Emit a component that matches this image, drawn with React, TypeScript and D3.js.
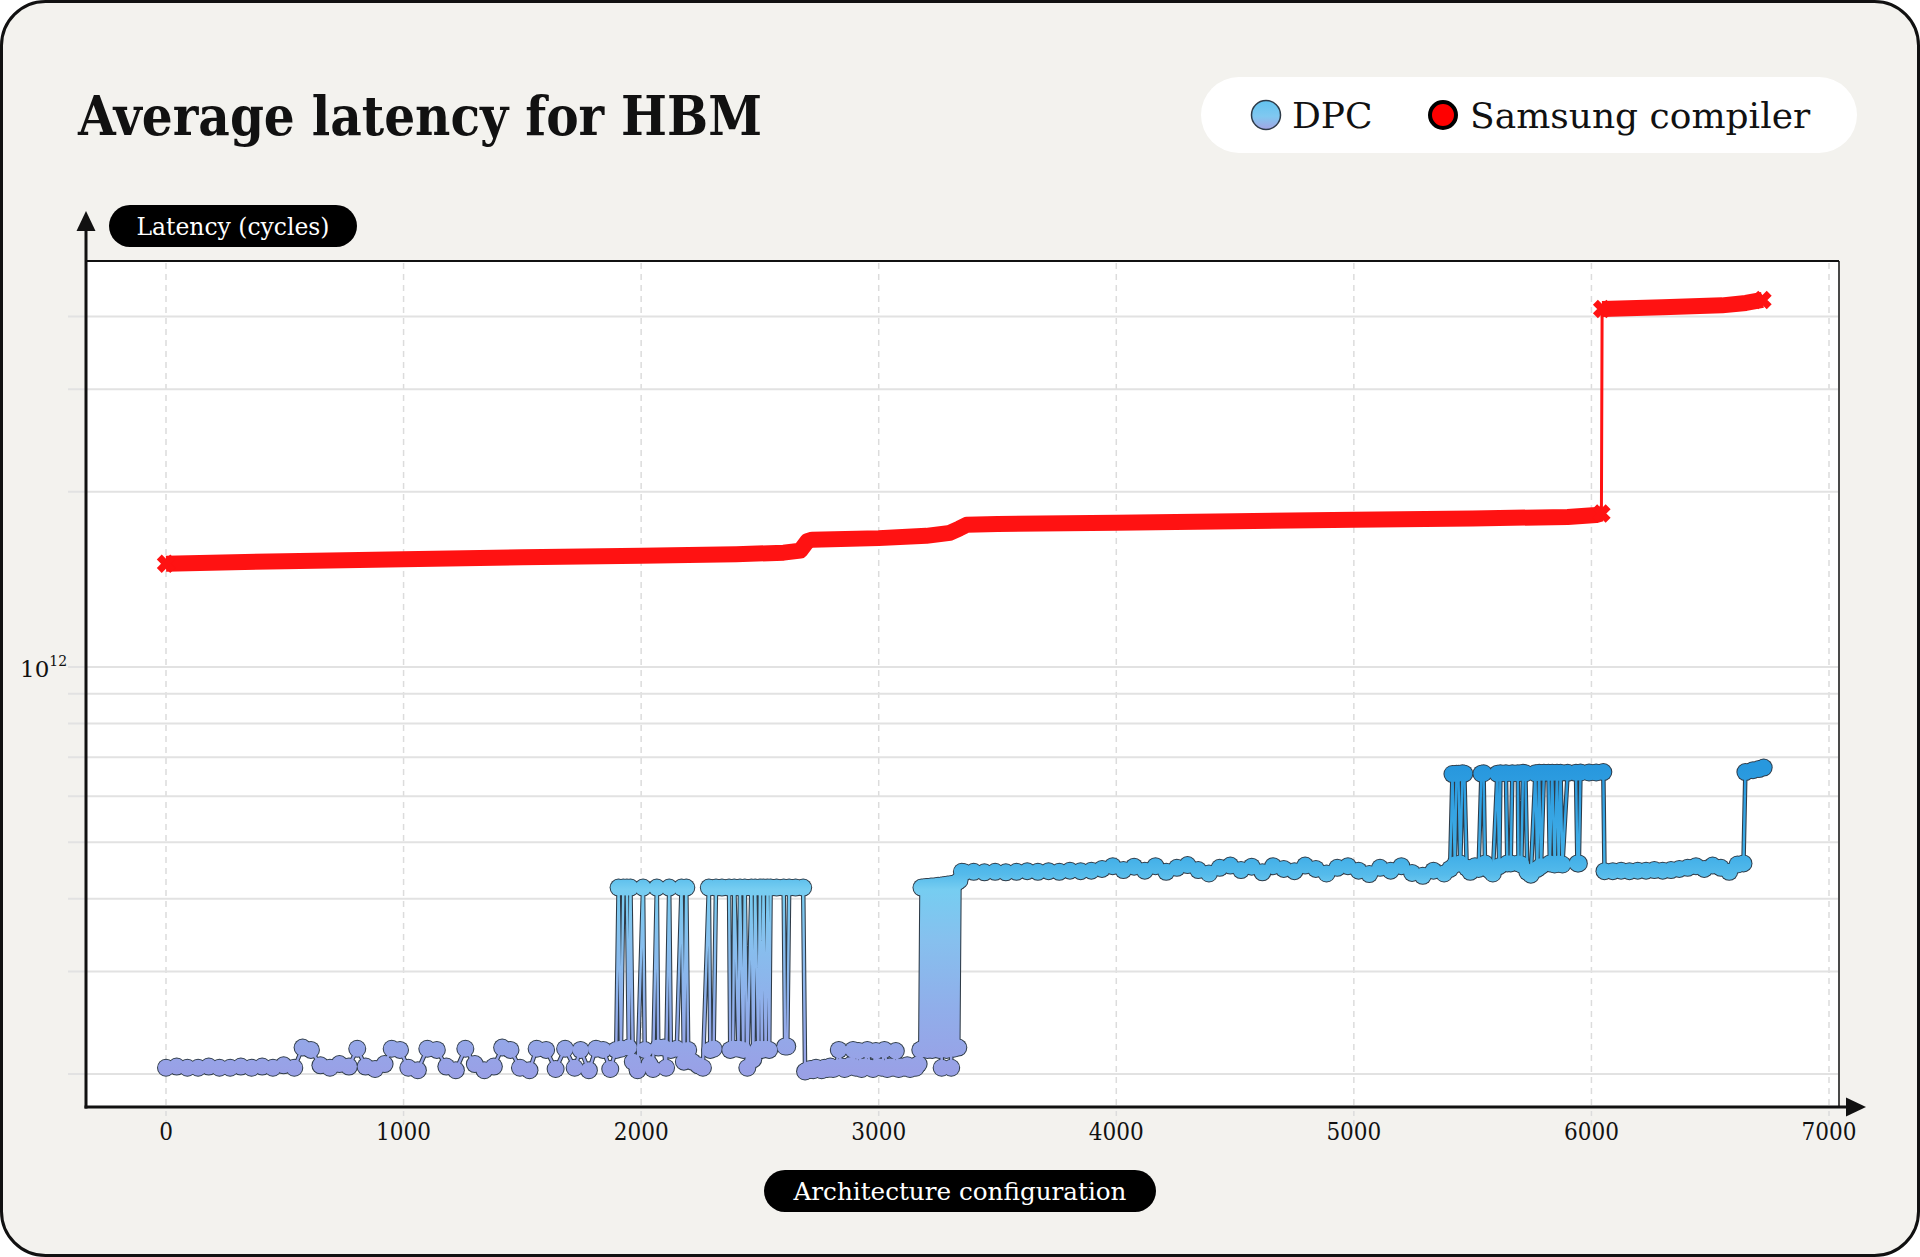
import React, { useEffect, useRef } from 'react';
import * as d3 from 'd3';

// ---- data ----
const xTicks = [0, 1000, 2000, 3000, 4000, 5000, 6000, 7000];
const yGrid = [2e11, 3e11, 4e11, 5e11, 6e11, 7e11, 8e11, 9e11, 1e12, 2e12, 3e12, 4e12];

// DPC: configuration index / average latency (x 1e11 cycles)
const dpcConfig = [
  0, 45, 90, 135, 180, 225, 270, 315, 360, 405, 450, 495, 540, 575, 610, 650, 690, 730, 770, 805, 840, 880, 920, 950, 985,
  1020, 1060, 1100, 1140, 1180, 1220, 1260, 1300, 1340, 1380, 1415, 1450, 1490, 1530, 1560, 1600, 1640, 1680, 1720, 1745,
  1780, 1810, 1840, 1870,
  1895, 1905, 1915, 1925, 1940, 1948, 1955, 1965, 1985, 2008, 2015, 2035, 2050, 2066, 2072, 2095, 2105, 2118, 2125, 2150,
  2170, 2180, 2190, 2198, 2215, 2240, 2260,
  2285, 2291, 2305, 2315, 2340, 2370, 2375, 2387, 2392, 2410, 2416, 2430, 2436, 2447, 2464, 2472, 2480, 2493, 2500, 2508,
  2515, 2524, 2532, 2539, 2545, 2570, 2600, 2606, 2615, 2623, 2650, 2682, 2690,
  2700, 2712, 2724, 2736, 2748, 2760, 2772, 2784, 2796, 2808,
  2820, 2832, 2844, 2856, 2868, 2880, 2892, 2904, 2916, 2928,
  2940, 2952, 2964, 2976, 2988, 3000, 3012, 3024, 3036, 3048,
  3060, 3072, 3084, 3096, 3108, 3120, 3132, 3144, 3156, 3168,
  3175, 3180, 3185, 3190, 3195, 3200, 3205, 3210, 3215, 3220,
  3225, 3230, 3235, 3240, 3245, 3250, 3255, 3260, 3265, 3270,
  3275, 3280, 3285, 3290, 3295, 3300, 3305, 3310, 3315, 3320,
  3325, 3330, 3335, 3340, 3350,
  3360, 3400, 3445, 3490, 3535, 3580, 3625, 3670, 3715, 3760, 3805, 3850, 3895, 3940, 3985, 4030, 4075, 4120, 4165, 4210,
  4255, 4300, 4345, 4390, 4435, 4480, 4525, 4570, 4615, 4660, 4705, 4750, 4795, 4840, 4885, 4930, 4975, 5020, 5065, 5110,
  5155, 5200, 5245, 5290, 5335, 5380,
  5405, 5415, 5425, 5432, 5440, 5448, 5457, 5465, 5475, 5490, 5510, 5525, 5537, 5546, 5552, 5570, 5585, 5604, 5612, 5617,
  5640, 5646, 5660, 5667, 5690, 5693, 5705, 5712, 5722, 5730, 5745, 5764, 5772, 5780, 5788, 5800, 5819, 5825, 5835, 5845,
  5855, 5862, 5870, 5878, 5900, 5935, 5941, 5947, 5954, 5990, 6020, 6050,
  6055, 6090, 6125, 6160, 6195, 6230, 6265, 6300, 6335, 6370, 6405, 6440, 6475, 6510, 6545, 6580, 6615, 6640,
  6648, 6680, 6705, 6725,
];
const dpcLatency = [
  2.05, 2.06, 2.05, 2.05, 2.06, 2.05, 2.05, 2.06, 2.05, 2.06, 2.05, 2.07, 2.05, 2.22, 2.2, 2.07, 2.05, 2.08, 2.06, 2.21, 2.06,
  2.04, 2.08, 2.21, 2.2, 2.05, 2.03, 2.21, 2.2, 2.06, 2.03, 2.21, 2.08, 2.03, 2.06, 2.22, 2.2, 2.05, 2.03, 2.21, 2.2, 2.04,
  2.21, 2.05, 2.2, 2.03, 2.21, 2.2, 2.04,
  2.2, 4.18, 2.21, 4.18, 4.18, 2.22, 4.18, 2.1, 2.03, 4.18, 2.2, 2.08, 2.04, 4.18, 2.22, 2.22, 2.05, 4.18, 2.2, 2.21,
  4.18, 2.1, 4.18, 2.2, 2.1, 2.07, 2.05,
  4.18, 2.2, 2.21, 4.18, 4.18, 4.18, 2.2, 2.21, 4.18, 2.21, 4.18, 2.2, 4.18, 2.05, 4.18, 2.12, 4.18, 2.21, 4.18, 2.2,
  4.18, 2.21, 4.18, 2.2, 4.18, 4.18, 4.18, 2.23, 2.23, 4.18, 4.18, 4.18, 2.02,
  2.03, 2.04, 2.03, 2.05, 2.04, 2.03, 2.05, 2.04, 2.06, 2.04,
  2.05, 2.2, 2.06, 2.04, 2.05, 2.07, 2.2, 2.05, 2.19, 2.04,
  2.06, 2.2, 2.05, 2.04, 2.19, 2.06, 2.05, 2.2, 2.04, 2.06,
  2.05, 2.19, 2.04, 2.06, 2.05, 2.07, 2.04, 2.06, 2.05, 2.08,
  2.2, 4.18, 2.21, 4.18, 2.22, 4.19, 2.2, 4.19, 2.21, 4.2,
  2.2, 4.2, 2.22, 4.2, 2.21, 4.21, 2.2, 4.21, 2.05, 4.22,
  2.21, 4.22, 2.2, 4.23, 2.22, 4.23, 2.05, 4.24, 2.21, 4.25,
  2.22, 4.27, 2.22, 4.3, 4.45,
  4.44, 4.45, 4.44, 4.45, 4.44, 4.45, 4.46, 4.45, 4.46, 4.45, 4.47, 4.46, 4.47, 4.5, 4.55, 4.48, 4.54, 4.47, 4.55, 4.45,
  4.52, 4.57, 4.48, 4.42, 4.52, 4.56, 4.48, 4.54, 4.44, 4.55, 4.5, 4.46, 4.56, 4.5, 4.42, 4.52, 4.55, 4.47, 4.41, 4.52,
  4.47, 4.55, 4.43, 4.38, 4.47, 4.42,
  4.5, 6.55, 4.58, 6.56, 6.56, 4.6, 6.57, 6.56, 4.52, 4.45, 4.55, 4.5, 6.56, 6.57, 4.6, 4.48, 4.42, 6.56, 4.55, 6.57,
  6.57, 4.6, 4.6, 6.57, 6.57, 4.6, 4.58, 6.58, 6.57, 4.45, 4.4, 6.57, 4.5, 6.58, 4.55, 6.58, 6.58, 4.6, 6.58, 4.58,
  6.58, 4.6, 6.58, 4.58, 6.58, 6.58, 4.6, 4.6, 6.59, 6.59, 6.59, 6.6,
  4.46, 4.46, 4.47, 4.46, 4.47, 4.47, 4.48, 4.47, 4.48, 4.5, 4.52, 4.55, 4.5, 4.56, 4.52, 4.45, 4.58, 4.6,
  6.6, 6.65, 6.68, 6.72,
];

// Samsung compiler: configuration index / average latency (x 1e12 cycles)
const samsungConfig = [
  0, 500, 1000, 1500, 2000, 2400, 2600, 2670, 2700, 2720, 3000, 3200, 3300, 3340, 3370, 3500, 4000, 4500, 5000, 5500,
  5900, 6020, 6042, 6045, 6300, 6550, 6650, 6720,
];
const samsungLatency = [
  1.505, 1.52, 1.532, 1.543, 1.553, 1.562, 1.572, 1.585, 1.645, 1.655, 1.665, 1.68, 1.7, 1.73, 1.755, 1.76, 1.77, 1.78,
  1.79, 1.8, 1.81, 1.825, 1.835, 4.12, 4.15, 4.18, 4.22, 4.27,
];

// colour ramp of the DPC trace (latency x 1e11 -> colour)
const rampLatency = [2.0, 2.6, 3.4, 4.15, 4.4, 4.7, 6.7];
const rampColor = ['#99A0E6', '#90AEEA', '#86C0EE', '#76CDF1', '#55BBEB', '#43B0E8', '#2898DE'];

const FONT = "'DejaVu Serif', serif";
const COND = "'DejaVu Serif Condensed', 'DejaVu Serif', serif";
const RED = '#FF1212';
const DARK = '#2E3B48';

const App = () => {
  const svgRef = useRef(null);

  useEffect(() => {
    const svg = d3.select(svgRef.current);
    svg.selectAll('*').remove();

    // plot frame
    const left = 86, right = 1838, top = 261, bottom = 1107;

    const x = d3.scaleLinear().domain([0, 7000]).range([166, 1829]);
    const y = d3.scaleLog().domain([2e11, 4e12]).range([1074, 316.5]);

    const defs = svg.append('defs');
    const yTop = y(6.7e11), yBot = y(2.0e11);
    const grad = defs.append('linearGradient')
      .attr('id', 'dpcGrad')
      .attr('gradientUnits', 'userSpaceOnUse')
      .attr('x1', 0).attr('x2', 0)
      .attr('y1', yTop).attr('y2', yBot);
    rampLatency.slice().reverse().forEach((v, i) => {
      const c = rampColor[rampLatency.length - 1 - i];
      grad.append('stop')
        .attr('offset', (y(v * 1e11) - yTop) / (yBot - yTop))
        .attr('stop-color', c);
    });
    const lg = defs.append('linearGradient')
      .attr('id', 'legendGrad')
      .attr('x1', 0).attr('x2', 0).attr('y1', 0).attr('y2', 1);
    lg.append('stop').attr('offset', 0).attr('stop-color', '#62C3EF');
    lg.append('stop').attr('offset', 0.55).attr('stop-color', '#80C8F0');
    lg.append('stop').attr('offset', 1).attr('stop-color', '#A3A4E4');

    // card
    svg.append('rect')
      .attr('x', 1.5).attr('y', 1.5)
      .attr('width', 1917).attr('height', 1254)
      .attr('rx', 44)
      .attr('fill', '#F3F2EE')
      .attr('stroke', '#111')
      .attr('stroke-width', 3);

    // title
    svg.append('text')
      .attr('x', 78).attr('y', 135)
      .attr('font-family', COND)
      .attr('font-weight', 700)
      .attr('font-size', 55)
      .attr('textLength', 684)
      .attr('lengthAdjust', 'spacingAndGlyphs')
      .attr('fill', '#111')
      .text('Average latency for HBM');

    // legend
    svg.append('rect')
      .attr('x', 1201).attr('y', 77)
      .attr('width', 656).attr('height', 76)
      .attr('rx', 38)
      .attr('fill', '#fff');
    svg.append('circle')
      .attr('cx', 1266).attr('cy', 115).attr('r', 14.5)
      .attr('fill', 'url(#legendGrad)')
      .attr('stroke', DARK).attr('stroke-width', 1.5);
    svg.append('text')
      .attr('x', 1292).attr('y', 128)
      .attr('font-family', FONT).attr('font-size', 36)
      .attr('fill', '#111')
      .text('DPC');
    svg.append('circle')
      .attr('cx', 1443).attr('cy', 115).attr('r', 13)
      .attr('fill', '#FF0000')
      .attr('stroke', '#000').attr('stroke-width', 4);
    svg.append('text')
      .attr('x', 1470).attr('y', 128)
      .attr('font-family', FONT).attr('font-size', 36)
      .attr('fill', '#111')
      .text('Samsung compiler');

    // plot background
    svg.append('rect')
      .attr('x', left).attr('y', top)
      .attr('width', right - left).attr('height', bottom - top)
      .attr('fill', '#fff');

    // vertical dashed grid + ticks
    const grid = svg.append('g');
    xTicks.forEach((t) => {
      grid.append('line')
        .attr('x1', x(t)).attr('x2', x(t))
        .attr('y1', top + 2).attr('y2', bottom)
        .attr('stroke', '#DCDCDC').attr('stroke-width', 1.5)
        .attr('stroke-dasharray', '6,5');
      grid.append('line')
        .attr('x1', x(t)).attr('x2', x(t))
        .attr('y1', bottom + 4).attr('y2', bottom + 18)
        .attr('stroke', '#DCDCDC').attr('stroke-width', 1.5)
        .attr('stroke-dasharray', '5,4');
      svg.append('text')
        .attr('x', x(t)).attr('y', 1140)
        .attr('text-anchor', 'middle')
        .attr('font-family', COND).attr('font-size', 24)
        .attr('fill', '#111')
        .text(t);
    });

    // horizontal grid (log minor lines)
    yGrid.forEach((v) => {
      grid.append('line')
        .attr('x1', 68).attr('x2', right)
        .attr('y1', y(v)).attr('y2', y(v))
        .attr('stroke', '#E2E2E2').attr('stroke-width', 2);
    });

    // 10^12 label
    const lab = svg.append('text')
      .attr('x', 20).attr('y', y(1e12) + 10)
      .attr('font-family', FONT)
      .attr('fill', '#111');
    lab.append('tspan').attr('font-size', 23).text('10');
    lab.append('tspan').attr('font-size', 14).attr('dy', -11).text('12');

    // DPC trace: dark outline layer, then gradient layer
    const dpcPts: [number, number][] = dpcConfig.map((c, i) => [x(c), y(dpcLatency[i] * 1e11)]);
    const line = d3.line();
    const outline = svg.append('g');
    outline.append('path')
      .attr('d', line(dpcPts))
      .attr('fill', 'none')
      .attr('stroke', DARK).attr('stroke-width', 4.5)
      .attr('stroke-linejoin', 'round');
    outline.selectAll('circle').data(dpcPts).join('circle')
      .attr('cx', (d) => d[0]).attr('cy', (d) => d[1])
      .attr('r', 9).attr('fill', DARK);
    const fillLayer = svg.append('g');
    fillLayer.append('path')
      .attr('d', line(dpcPts))
      .attr('fill', 'none')
      .attr('stroke', 'url(#dpcGrad)').attr('stroke-width', 2.4)
      .attr('stroke-linejoin', 'round');
    fillLayer.selectAll('circle').data(dpcPts).join('circle')
      .attr('cx', (d) => d[0]).attr('cy', (d) => d[1])
      .attr('r', 8).attr('fill', 'url(#dpcGrad)');

    // Samsung compiler trace
    const samPts: [number, number][] = samsungConfig.map((c, i) => [x(c), y(samsungLatency[i] * 1e12)]);
    svg.append('path')
      .attr('d', line(samPts))
      .attr('fill', 'none')
      .attr('stroke', RED).attr('stroke-width', 3);
    // split into runs wherever the latency jumps
    const runs: [number, number][][] = [];
    samPts.forEach((p, i) => {
      if (i === 0 || samsungLatency[i] / samsungLatency[i - 1] > 1.3) runs.push([]);
      runs[runs.length - 1].push(p);
    });
    const xMark = d3.symbol(d3.symbolTimes, 120);
    runs.forEach((run) => {
      svg.append('path')
        .attr('d', line(run))
        .attr('fill', 'none')
        .attr('stroke', RED).attr('stroke-width', 16)
        .attr('stroke-linejoin', 'round');
      [run[0], run[run.length - 1]].forEach((p) => {
        svg.append('path')
          .attr('d', xMark())
          .attr('transform', `translate(${p[0]},${p[1]})`)
          .attr('fill', 'none')
          .attr('stroke', RED).attr('stroke-width', 7);
      });
    });

    // frame borders + axes
    svg.append('line')
      .attr('x1', left).attr('x2', right + 1)
      .attr('y1', top).attr('y2', top)
      .attr('stroke', '#111').attr('stroke-width', 2);
    svg.append('line')
      .attr('x1', right + 1).attr('x2', right + 1)
      .attr('y1', top).attr('y2', bottom)
      .attr('stroke', '#111').attr('stroke-width', 1.5);
    svg.append('line')
      .attr('x1', left).attr('x2', left)
      .attr('y1', bottom + 1.5).attr('y2', 228)
      .attr('stroke', '#111').attr('stroke-width', 3);
    svg.append('path')
      .attr('d', `M${left},211 L${left - 9.5},231 L${left + 9.5},231 Z`)
      .attr('fill', '#111');
    svg.append('line')
      .attr('x1', left - 1.5).attr('x2', 1850)
      .attr('y1', bottom).attr('y2', bottom)
      .attr('stroke', '#111').attr('stroke-width', 3);
    svg.append('path')
      .attr('d', `M1866,${bottom} L1846,${bottom - 9.5} L1846,${bottom + 9.5} Z`)
      .attr('fill', '#111');

    // axis title pills
    svg.append('rect')
      .attr('x', 109).attr('y', 205)
      .attr('width', 248).attr('height', 42)
      .attr('rx', 21).attr('fill', '#000');
    svg.append('text')
      .attr('x', 233).attr('y', 235)
      .attr('text-anchor', 'middle')
      .attr('font-family', COND).attr('font-size', 24)
      .attr('textLength', 193).attr('lengthAdjust', 'spacingAndGlyphs')
      .attr('fill', '#fff')
      .text('Latency (cycles)');
    svg.append('rect')
      .attr('x', 764).attr('y', 1170)
      .attr('width', 392).attr('height', 42)
      .attr('rx', 21).attr('fill', '#000');
    svg.append('text')
      .attr('x', 960).attr('y', 1200)
      .attr('text-anchor', 'middle')
      .attr('font-family', COND).attr('font-size', 25)
      .attr('textLength', 333).attr('lengthAdjust', 'spacingAndGlyphs')
      .attr('fill', '#fff')
      .text('Architecture configuration');
  }, []);

  return (
    <svg
      ref={svgRef}
      width={1920}
      height={1257}
      style={{ position: 'absolute', left: 0, top: 0, display: 'block' }}
    ></svg>
  );
};

export default App;
